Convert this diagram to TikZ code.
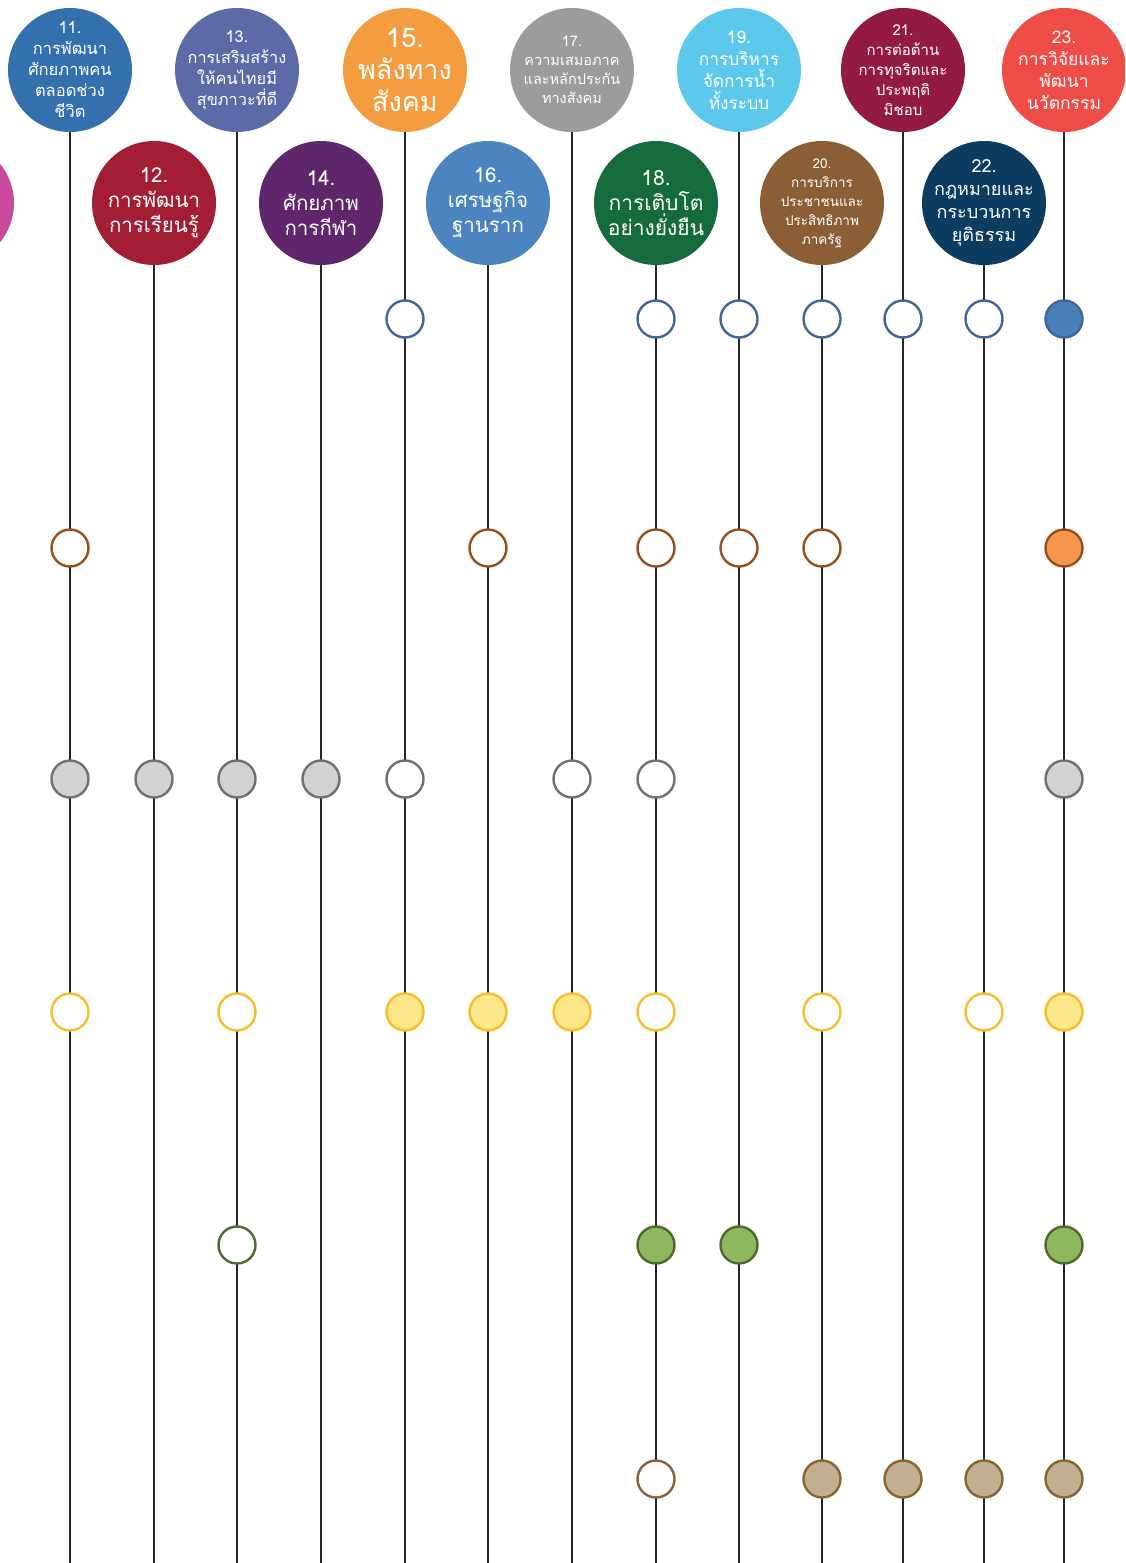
\documentclass[tikz,border=0pt]{standalone}
\usepackage{fontspec}
\newfontfamily\thaifont[Script=Thai]{Loma}
\usetikzlibrary{positioning}
\definecolor{cG10}{HTML}{C94A9E}
\definecolor{cG11}{HTML}{3470AE}
\definecolor{cG12}{HTML}{A21E35}
\definecolor{cG13}{HTML}{5B6BA8}
\definecolor{cG14}{HTML}{5F266B}
\definecolor{cG15}{HTML}{F39D40}
\definecolor{cG16}{HTML}{4C84BF}
\definecolor{cG17}{HTML}{9B9C9B}
\definecolor{cG18}{HTML}{156B3B}
\definecolor{cG19}{HTML}{5BC8EC}
\definecolor{cG20}{HTML}{8B5E36}
\definecolor{cG21}{HTML}{931B41}
\definecolor{cG22}{HTML}{0C3C5F}
\definecolor{cG23}{HTML}{EE4D47}
\definecolor{cBlueLine}{HTML}{3D6699}
\definecolor{cBlueFill}{HTML}{4A80B7}
\definecolor{cRustLine}{HTML}{96501F}
\definecolor{cRustFill}{HTML}{F5954E}
\definecolor{cGreyLine}{HTML}{707070}
\definecolor{cGreyFill}{HTML}{D1D2D4}
\definecolor{cGoldLine}{HTML}{F7BE2A}
\definecolor{cGoldFill}{HTML}{FAE78A}
\definecolor{cLeafLine}{HTML}{4F6A2F}
\definecolor{cLeafFill}{HTML}{8DB860}
\definecolor{cSandLine}{HTML}{8A6435}
\definecolor{cSandFill}{HTML}{C0B090}

\begin{document}
\begin{tikzpicture}[
    x=1pt, y=-1pt,
    goal/.style={circle, minimum size=124pt, inner sep=0pt},
    glabel/.style 2 args={align=center, text=white, inner sep=0pt, font=\thaifont\fontsize{#1}{#2}\selectfont},
    vline/.style={line width=1.2pt, black!85},
    dot/.style={circle, minimum size=37pt, inner sep=0pt, line width=2.4pt, fill=white}
]
\useasboundingbox (0,0) rectangle (1125,1563);
\clip (0,0) rectangle (1125,1563);

% strategy circles, top row
\node[goal, fill=cG11, label={[glabel={16.5}{21}]center:{11.\\การพัฒนา\\ศักยภาพคน\\ตลอดช่วง\\ชีวิต}}] (g11) at (70,70) {};
\node[goal, fill=cG13, label={[glabel={16.3}{21}]center:{13.\\การเสริมสร้าง\\ให้คนไทยมี\\สุขภาวะที่ดี}}] (g13) at (237,70) {};
\node[goal, fill=cG15, label={[glabel={27}{32}]center:{15.\\พลังทาง\\สังคม}}] (g15) at (405,70) {};
\node[goal, fill=cG17, label={[glabel={14.5}{19}]center:{17.\\ความเสมอภาค\\และหลักประกัน\\ทางสังคม}}] (g17) at (572,70) {};
\node[goal, fill=cG19, label={[glabel={17.3}{22}]center:{19.\\การบริหาร\\จัดการน้ำ\\ทั้งระบบ}}] (g19) at (739,70) {};
\node[goal, fill=cG21, label={[glabel={15}{20}]center:{21.\\การต่อต้าน\\การทุจริตและ\\ประพฤติ\\มิชอบ}}] (g21) at (903,70) {};
\node[goal, fill=cG23, label={[glabel={17.5}{22}]center:{23.\\การวิจัยและ\\พัฒนา\\นวัตกรรม}}] (g23) at (1064,70) {};

% strategy circles, second row
\node[goal, fill=cG10] (g10) at (-48,203) {};
\node[goal, fill=cG12, label={[glabel={20.5}{25}]center:{12.\\การพัฒนา\\การเรียนรู้}}] (g12) at (154,203) {};
\node[goal, fill=cG14, label={[glabel={20.5}{25}]center:{14.\\ศักยภาพ\\การกีฬา}}] (g14) at (321,203) {};
\node[goal, fill=cG16, label={[glabel={20.5}{25}]center:{16.\\เศรษฐกิจ\\ฐานราก}}] (g16) at (488,203) {};
\node[goal, fill=cG18, label={[glabel={21}{25}]center:{18.\\การเติบโต\\อย่างยั่งยืน}}] (g18) at (656,203) {};
\node[goal, fill=cG20, label={[glabel={13.5}{19}]center:{20.\\การบริการ\\ประชาชนและ\\ประสิทธิภาพ\\ภาครัฐ}}] (g20) at (822,203) {};
\node[goal, fill=cG22, label={[glabel={18}{23}]center:{22.\\กฎหมายและ\\กระบวนการ\\ยุติธรรม}}] (g22) at (984,203) {};

% lines down the page
\foreach \c in {11,...,23}
    \draw[vline] (g\c.south) -- (g\c |- 0,1563);

% rows of markers
\foreach \c/\f in {15/white,18/white,19/white,20/white,21/white,22/white,23/cBlueFill}
    \node[dot, draw=cBlueLine, fill=\f] (m\c-a) at (g\c |- 0,319) {};
\foreach \c/\f in {11/white,16/white,18/white,19/white,20/white,23/cRustFill}
    \node[dot, draw=cRustLine, fill=\f] (m\c-b) at (g\c |- 0,548) {};
\foreach \c/\f in {11/cGreyFill,12/cGreyFill,13/cGreyFill,14/cGreyFill,15/white,17/white,18/white,23/cGreyFill}
    \node[dot, draw=cGreyLine, fill=\f] (m\c-c) at (g\c |- 0,779) {};
\foreach \c/\f in {11/white,13/white,15/cGoldFill,16/cGoldFill,17/cGoldFill,18/white,20/white,22/white,23/cGoldFill}
    \node[dot, draw=cGoldLine, fill=\f] (m\c-d) at (g\c |- 0,1012) {};
\foreach \c/\f in {13/white,18/cLeafFill,19/cLeafFill,23/cLeafFill}
    \node[dot, draw=cLeafLine, fill=\f] (m\c-e) at (g\c |- 0,1245) {};
\foreach \c/\f in {18/white,20/cSandFill,21/cSandFill,22/cSandFill,23/cSandFill}
    \node[dot, draw=cSandLine, fill=\f] (m\c-f) at (g\c |- 0,1479) {};
\end{tikzpicture}
\end{document}
